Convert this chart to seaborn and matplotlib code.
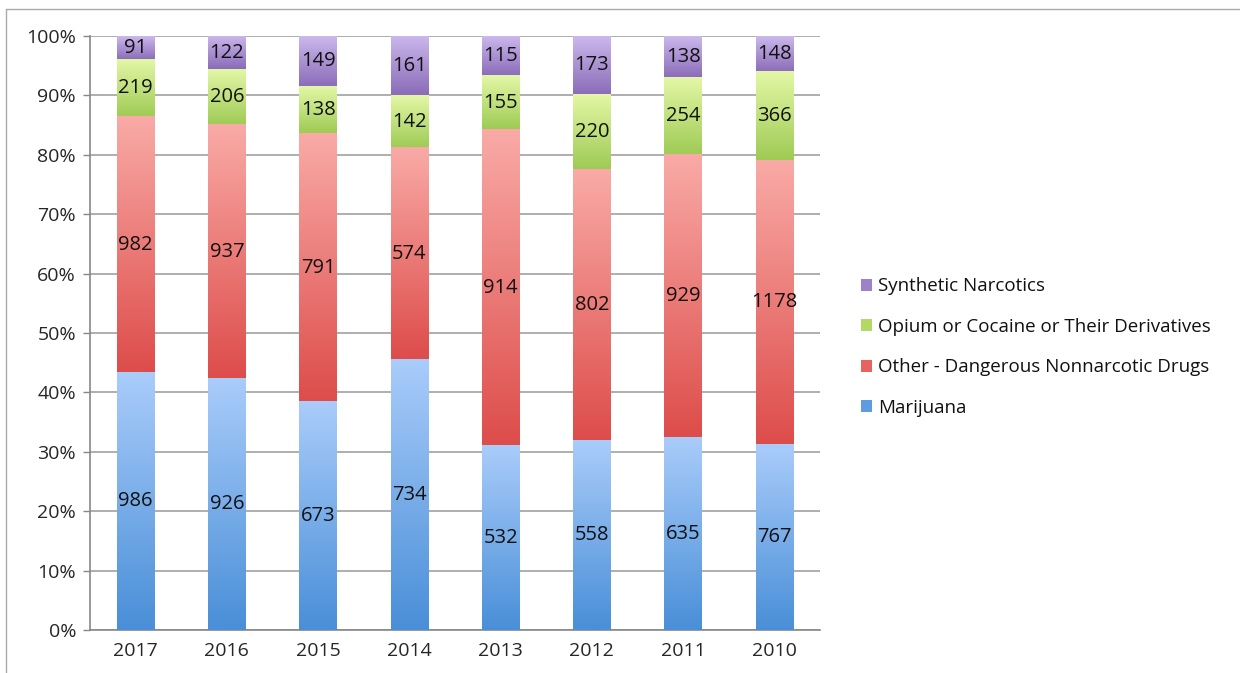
import numpy as np
import pandas as pd
import matplotlib
matplotlib.use("Agg")
import matplotlib.pyplot as plt
import seaborn as sns
from matplotlib.patches import Patch
from matplotlib.colors import to_rgb
from matplotlib.lines import Line2D

years = ["2017", "2016", "2015", "2014", "2013", "2012", "2011", "2010"]
marijuana = [986, 926, 673, 734, 532, 558, 635, 767]
other_dangerous = [982, 937, 791, 574, 914, 802, 929, 1178]
opium_cocaine = [219, 206, 138, 142, 155, 220, 254, 366]
synthetic = [91, 122, 149, 161, 115, 173, 138, 148]

series_names = ["Marijuana", "Other - Dangerous Nonnarcotic Drugs",
                "Opium or Cocaine or Their Derivatives", "Synthetic Narcotics"]
series_vals = [marijuana, other_dangerous, opium_cocaine, synthetic]
# (top color, bottom color) gradient for each series
grad_colors = [("#a9ccfa", "#4a8fd8"), ("#f9aaa6", "#dd4d4b"),
               ("#e3f7a6", "#9fcb55"), ("#cbb8ec", "#8a6cb8")]
legend_colors = ["#5f9be0", "#e8625f", "#b3d866", "#9d82c9"]

df = pd.DataFrame({"year": years})
for n, v in zip(series_names, series_vals):
    df[n] = v
total = df[series_names].sum(axis=1)
pct = df[series_names].div(total, axis=0) * 100
cum = pct.cumsum(axis=1)

sns.set_style("white")
plt.rcParams["font.family"] = ["Open Sans", "DejaVu Sans"]

fig = plt.figure(figsize=(12.4, 6.73), dpi=100)
ax = fig.add_axes([90 / 1240, 43 / 673, 730 / 1240, 594 / 673])

# draw cumulative bars from top layer down so lower layers overlap
for i in range(len(series_names) - 1, -1, -1):
    d = pd.DataFrame({"year": years, "val": cum[series_names[i]].values})
    sns.barplot(data=d, x="year", y="val", order=years, color=legend_colors[i],
                width=0.41, ax=ax, saturation=1, zorder=2, errorbar=None,
                linewidth=0)

containers = ax.containers  # order: synthetic, opium, other, marijuana
layer_of_container = [3, 2, 1, 0]
for cont, li in zip(containers, layer_of_container):
    top_c = np.array(to_rgb(grad_colors[li][0]))
    bot_c = np.array(to_rgb(grad_colors[li][1]))
    t = np.linspace(0, 1, 64)[:, None]
    img = (top_c * (1 - t) + bot_c * t)[:, None, :]
    for j, p in enumerate(cont.patches):
        x0 = p.get_x()
        w = p.get_width()
        ytop = p.get_height()
        ybot = cum[series_names[li - 1]].iloc[j] if li > 0 else 0.0
        ax.imshow(img, extent=[x0, x0 + w, ybot, ytop], aspect="auto",
                  zorder=3, interpolation="bilinear")
        val = series_vals[li][j]
        ax.text(x0 + w / 2, (ybot + ytop) / 2, str(val), ha="center",
                va="center", fontsize=14.5, color="#111111", zorder=5)

ax.set_xlim(-0.5, len(years) - 0.5)
ax.set_ylim(0, 100)
ax.set_yticks(np.arange(0, 101, 10))
ax.set_yticklabels([f"{v}%" for v in range(0, 101, 10)], fontsize=14)
ax.set_xticks(range(len(years)))
ax.set_xticklabels(years, fontsize=14)
ax.set_xticks(np.arange(-0.5, len(years), 1), minor=True)
ax.tick_params(axis="x", which="major", length=0, pad=9)
ax.tick_params(axis="x", which="minor", length=5, color="#888888", width=1)
ax.tick_params(axis="y", which="major", length=5, color="#888888", width=1, pad=5, left=True)
ax.yaxis.grid(True, color="#a8a8a8", linewidth=1.3, zorder=0)
ax.set_axisbelow(True)
ax.set_xlabel("")
ax.set_ylabel("")
for s in ["top", "right"]:
    ax.spines[s].set_visible(False)
for s in ["left", "bottom"]:
    ax.spines[s].set_color("#888888")
    ax.spines[s].set_linewidth(1.2)

handles = [Patch(facecolor=legend_colors[i], edgecolor="none", label=series_names[i])
           for i in range(3, -1, -1)]
leg = fig.legend(handles=handles, loc="center left",
                 bbox_to_anchor=(844 / 1240, 1 - 347 / 673), frameon=False,
                 fontsize=13.5, handlelength=0.6, handleheight=0.6,
                 handletextpad=0.3, labelspacing=1.2)
for txt in leg.get_texts():
    txt.set_color("#111111")

# outer chart border
fig.add_artist(Line2D([6 / 1240, 6 / 1240], [0, 1 - 9 / 673], color="#aaaaaa",
                      linewidth=1, transform=fig.transFigure))
fig.add_artist(Line2D([6 / 1240, 1], [1 - 9 / 673, 1 - 9 / 673], color="#aaaaaa",
                      linewidth=1, transform=fig.transFigure))

fig.savefig("out.png", dpi=100)
